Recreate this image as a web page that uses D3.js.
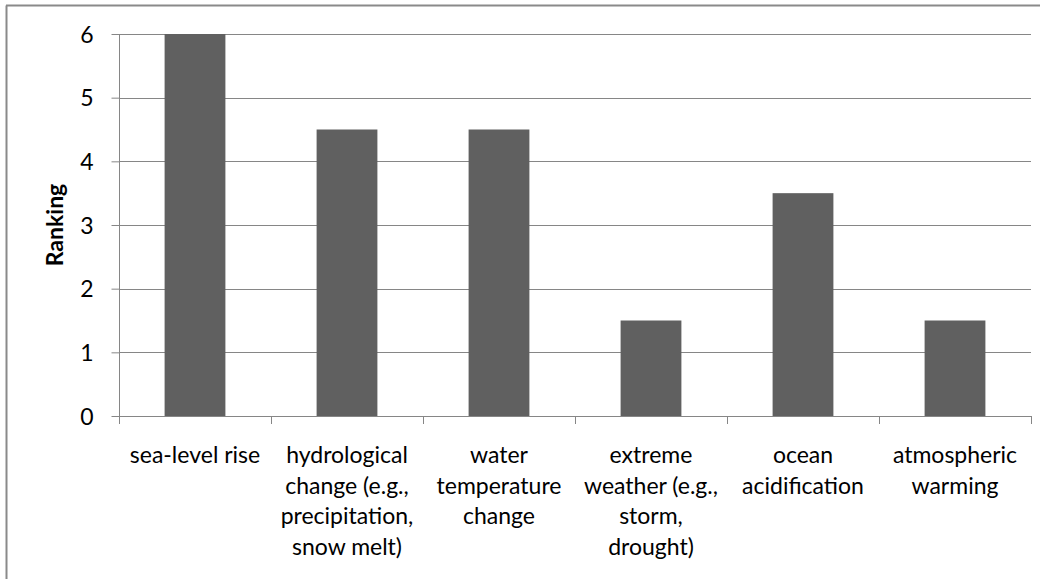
<!DOCTYPE html>
<html lang="en">
<head>
  <meta charset="UTF-8">
  <title>Ranking bar chart</title>
  <style>
    body { margin: 0; padding: 0; background: #fff; }
    svg { display: block; }
    svg text { font-family: Lato, "Open Sans", sans-serif; fill: #000; }
  </style>
</head>
<body>
  <svg id="chart" width="1049" height="579"></svg>
  <script src="https://d3js.org/d3.v7.min.js"></script>
  <script>
    // categories, split in the lines the axis labels wrap into
    const categories = ["sea-level rise", "hydrological change", "water temperature change",
      "extreme weather", "ocean acidification", "atmospheric warming"];
    const labelLines = [
      ["sea-level rise"],
      ["hydrological", "change (e.g.,", "precipitation,", "snow melt)"],
      ["water", "temperature", "change"],
      ["extreme", "weather (e.g.,", "storm,", "drought)"],
      ["ocean", "acidification"],
      ["atmospheric", "warming"]
    ];
    const ranking = [6, 4.5, 4.5, 1.5, 3.5, 1.5];
    const yTicks = [0, 1, 2, 3, 4, 5, 6];

    const svg = d3.select("#chart");
    const margin = { left: 119, right: 1031, top: 34, bottom: 416 };

    // outer frame (left and top edges only are visible)
    svg.append("line").attr("x1", 6.5).attr("x2", 6.5).attr("y1", 5.5).attr("y2", 579)
      .attr("stroke", "#8a8a8a").attr("stroke-width", 2);
    svg.append("line").attr("x1", 6).attr("x2", 1040).attr("y1", 5.5).attr("y2", 5.5)
      .attr("stroke", "#8a8a8a").attr("stroke-width", 2);

    const x = d3.scaleBand()
      .domain(categories)
      .range([margin.left, margin.right])
      .paddingInner(0.6)
      .paddingOuter(0.3);

    const y = d3.scaleLinear()
      .domain([0, 6])
      .range([margin.bottom, margin.top]);

    // gridlines
    svg.append("g")
      .selectAll("line")
      .data(yTicks.filter(d => d > 0))
      .enter()
      .append("line")
        .attr("x1", margin.left)
        .attr("x2", margin.right)
        .attr("y1", d => Math.round(y(d)) + 0.5)
        .attr("y2", d => Math.round(y(d)) + 0.5)
        .attr("stroke", "#868686")
        .attr("stroke-width", 1);

    // bars
    svg.append("g")
      .selectAll("rect")
      .data(ranking)
      .enter()
      .append("rect")
        .attr("x", (d, i) => x(categories[i]))
        .attr("width", x.bandwidth())
        .attr("y", d => y(d))
        .attr("height", d => y(0) - y(d))
        .attr("fill", "#606060");

    // y axis
    const yAxis = svg.append("g")
      .attr("transform", `translate(${margin.left + 0.5},0)`)
      .call(d3.axisLeft(y).tickValues(yTicks).tickSize(8).tickPadding(18).tickFormat(d3.format("d")));
    yAxis.attr("font-family", null);
    yAxis.selectAll("line, path").attr("stroke", "#868686");
    yAxis.select(".domain").attr("d", `M0,${margin.top}V${margin.bottom}`);
    yAxis.selectAll("text").style("font-size", "23px").attr("dy", "0.36em");

    // x axis: ticks at the category boundaries
    const step = (margin.right - margin.left) / categories.length;
    const xg = svg.append("g");
    xg.append("line")
      .attr("x1", margin.left).attr("x2", margin.right + 0.5)
      .attr("y1", margin.bottom + 0.5).attr("y2", margin.bottom + 0.5)
      .attr("stroke", "#868686");
    xg.selectAll("line.tk")
      .data(d3.range(categories.length + 1))
      .enter()
      .append("line")
        .attr("class", "tk")
        .attr("x1", i => Math.round(margin.left + i * step) + 0.5)
        .attr("x2", i => Math.round(margin.left + i * step) + 0.5)
        .attr("y1", margin.bottom)
        .attr("y2", margin.bottom + 8)
        .attr("stroke", "#868686");

    // category labels
    const lab = xg.selectAll("text.cat")
      .data(categories)
      .enter()
      .append("text")
        .attr("class", "cat")
        .attr("text-anchor", "middle")
        .style("font-size", "23px");
    lab.each(function(d, i) {
      const cx = x(d) + x.bandwidth() / 2;
      d3.select(this).selectAll("tspan")
        .data(labelLines[i])
        .enter()
        .append("tspan")
          .attr("x", cx)
          .attr("y", (t, j) => 455 + j * 30.5)
          .attr("dy", "0.35em")
          .text(t => t);
    });

    // y axis title
    svg.append("text")
      .attr("transform", `translate(63,${(margin.top + margin.bottom) / 2}) rotate(-90)`)
      .attr("text-anchor", "middle")
      .style("font-size", "23px")
      .style("font-weight", "bold")
      .text("Ranking");
  </script>
</body>
</html>
